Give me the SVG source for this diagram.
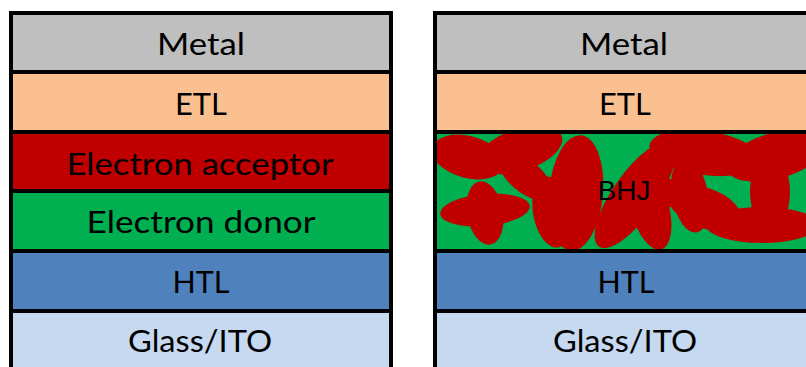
<svg xmlns="http://www.w3.org/2000/svg" width="806" height="367" viewBox="0 0 806 367">
  <style>
    .layer { stroke: #000; stroke-width: 4; }
    .metal { fill: #BFBFBF; }
    .etl { fill: #FAC090; }
    .acc { fill: #C00000; }
    .don { fill: #00B050; }
    .htl { fill: #4F81BD; }
    .ito { fill: #C6D9F1; }
    .lbl { font-family: Lato, "Open Sans", sans-serif; font-size: 31px; fill: #000; text-anchor: middle; }
    .bhj { font-family: "Liberation Sans", Arial, sans-serif; font-size: 28px; fill: #000; text-anchor: middle; }
    .blob { fill: #C00000; }
  </style>
  <defs>
    <clipPath id="bhjClip">
      <rect x="435" y="132" width="380" height="119"/>
    </clipPath>
  </defs>

  <rect width="806" height="367" fill="#fff"/>

  <!-- Planar (bilayer) device stack -->
  <g id="planar-stack">
    <g id="planar-metal">
      <rect class="layer metal" x="11" y="13" width="380" height="59"/>
      <text class="lbl" x="201" y="55" textLength="88" lengthAdjust="spacingAndGlyphs">Metal</text>
    </g>
    <g id="planar-etl">
      <rect class="layer etl" x="11" y="72" width="380" height="60"/>
      <text class="lbl" x="201" y="115" textLength="52" lengthAdjust="spacingAndGlyphs">ETL</text>
    </g>
    <g id="planar-acceptor">
      <rect class="layer acc" x="11" y="132" width="380" height="59"/>
      <text class="lbl" x="200" y="175" textLength="267" lengthAdjust="spacingAndGlyphs">Electron acceptor</text>
    </g>
    <g id="planar-donor">
      <rect class="layer don" x="11" y="191" width="380" height="60"/>
      <text class="lbl" x="201" y="233" textLength="229" lengthAdjust="spacingAndGlyphs">Electron donor</text>
    </g>
    <g id="planar-htl">
      <rect class="layer htl" x="11" y="251" width="380" height="60"/>
      <text class="lbl" x="201" y="293" textLength="57" lengthAdjust="spacingAndGlyphs">HTL</text>
    </g>
    <g id="planar-ito">
      <rect class="layer ito" x="11" y="311" width="380" height="62"/>
      <text class="lbl" x="200" y="352" textLength="144" lengthAdjust="spacingAndGlyphs">Glass/ITO</text>
    </g>
  </g>

  <!-- Bulk-heterojunction device stack -->
  <g id="bhj-stack">
    <g id="bhj-metal">
      <rect class="layer metal" x="435" y="13" width="380" height="59"/>
      <text class="lbl" x="624" y="55" textLength="88" lengthAdjust="spacingAndGlyphs">Metal</text>
    </g>
    <g id="bhj-etl">
      <rect class="layer etl" x="435" y="72" width="380" height="60"/>
      <text class="lbl" x="625" y="115" textLength="52" lengthAdjust="spacingAndGlyphs">ETL</text>
    </g>
    <g id="bhj-blend">
      <rect class="don" x="435" y="132" width="380" height="119"/>
      <!-- interpenetrating acceptor domains -->
      <g clip-path="url(#bhjClip)">
        <ellipse class="blob" cx="468" cy="157" rx="37" ry="21" transform="rotate(15 468 157)"/>
        <ellipse class="blob" cx="520" cy="150" rx="44" ry="21" transform="rotate(-18 520 150)"/>
        <ellipse class="blob" cx="525" cy="176" rx="33" ry="16" transform="rotate(40 525 176)"/>
        <ellipse class="blob" cx="485" cy="210" rx="45" ry="16" transform="rotate(-5 485 210)"/>
        <ellipse class="blob" cx="485" cy="213" rx="18" ry="32" transform="rotate(-10 485 213)"/>
        <ellipse class="blob" cx="576" cy="193" rx="27" ry="58" transform="rotate(5 576 193)"/>
        <ellipse class="blob" cx="552" cy="212" rx="19" ry="36" transform="rotate(-10 552 212)"/>
        <ellipse class="blob" cx="635" cy="195" rx="63" ry="22" transform="rotate(-55 635 195)"/>
        <ellipse class="blob" cx="650" cy="208" rx="43" ry="19" transform="rotate(75 650 208)"/>
        <ellipse class="blob" cx="655" cy="193" rx="31" ry="16"/>
        <ellipse class="blob" cx="705" cy="153" rx="56" ry="22" transform="rotate(8 705 153)"/>
        <ellipse class="blob" cx="775" cy="156" rx="50" ry="23" transform="rotate(-15 775 156)"/>
        <ellipse class="blob" cx="770" cy="192" rx="20" ry="38"/>
        <ellipse class="blob" cx="705" cy="208" rx="38" ry="20" transform="rotate(20 705 208)"/>
        <ellipse class="blob" cx="690" cy="195" rx="18" ry="38" transform="rotate(-10 690 195)"/>
        <ellipse class="blob" cx="762" cy="225" rx="56" ry="18"/>
      </g>
      <rect class="layer" fill="none" x="435" y="132" width="380" height="119"/>
      <text class="bhj" x="624" y="200">BHJ</text>
    </g>
    <g id="bhj-htl">
      <rect class="layer htl" x="435" y="251" width="380" height="60"/>
      <text class="lbl" x="626" y="293" textLength="57" lengthAdjust="spacingAndGlyphs">HTL</text>
    </g>
    <g id="bhj-ito">
      <rect class="layer ito" x="435" y="311" width="380" height="62"/>
      <text class="lbl" x="625" y="352" textLength="144" lengthAdjust="spacingAndGlyphs">Glass/ITO</text>
    </g>
  </g>
</svg>
